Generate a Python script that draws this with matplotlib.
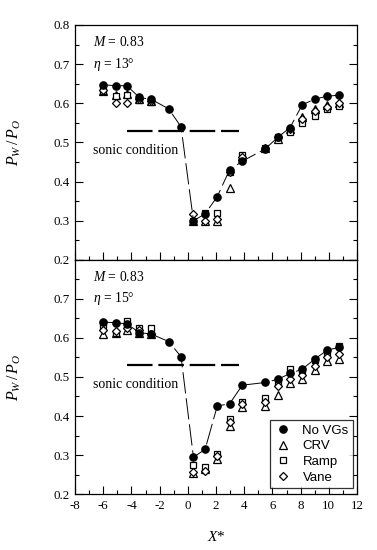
import matplotlib
matplotlib.use('Agg')
import matplotlib.pyplot as plt
from matplotlib.ticker import MultipleLocator

plt.rcParams['font.family'] = 'Liberation Serif'
plt.rcParams['mathtext.fontset'] = 'custom'
plt.rcParams['mathtext.rm'] = 'Liberation Serif'
plt.rcParams['mathtext.it'] = 'Liberation Serif:italic'

# pressure tap locations
x_all = [-6, -5.06, -4.32, -3.44, -2.59, -1.36, -0.48, 0.40, 1.23, 2.09,
         2.96, 3.86, 5.50, 6.38, 7.25, 8.11, 9.01, 9.89, 10.74]
# VG cases have no taps at -1.36 and -0.48
x_vg = [-6, -5.06, -4.32, -3.44, -2.59, 0.40, 1.23, 2.09,
        2.96, 3.86, 5.50, 6.38, 7.25, 8.11, 9.01, 9.89, 10.74]

# eta = 13 deg
novg_13 = [0.647, 0.645, 0.645, 0.615, 0.610, 0.586, 0.540, 0.300, 0.318, 0.362,
           0.430, 0.452, 0.484, 0.513, 0.538, 0.596, 0.611, 0.618, 0.621]
crv_13 = [0.632, 0.621, 0.625, 0.610, 0.605, 0.300, 0.300, 0.300,
          0.385, 0.465, 0.485, 0.510, 0.535, 0.565, 0.585, 0.595, 0.600]
ramp_13 = [0.632, 0.618, 0.620, 0.608, 0.603, 0.300, 0.320, 0.320,
           0.425, 0.468, 0.487, 0.515, 0.528, 0.550, 0.568, 0.585, 0.593]
vane_13 = [0.633, 0.602, 0.600, 0.610, 0.605, 0.318, 0.300, 0.305,
           0.425, 0.463, 0.487, 0.513, 0.535, 0.560, 0.580, 0.590, 0.600]

# eta = 15 deg
novg_15 = [0.641, 0.639, 0.636, 0.614, 0.610, 0.591, 0.552, 0.294, 0.315, 0.426,
           0.431, 0.479, 0.486, 0.494, 0.509, 0.520, 0.546, 0.569, 0.576]
crv_15 = [0.610, 0.614, 0.620, 0.612, 0.610, 0.253, 0.263, 0.290,
          0.375, 0.424, 0.426, 0.454, 0.484, 0.496, 0.518, 0.541, 0.546]
ramp_15 = [0.633, 0.614, 0.644, 0.626, 0.626, 0.275, 0.268, 0.302,
           0.393, 0.437, 0.445, 0.488, 0.520, 0.518, 0.543, 0.565, 0.580]
vane_15 = [0.620, 0.619, 0.625, 0.620, 0.610, 0.257, 0.260, 0.298,
           0.385, 0.430, 0.437, 0.477, 0.494, 0.505, 0.528, 0.550, 0.558]

sonic = 0.53
sonic_x = [-4.3, 3.62]

fig = plt.figure(figsize=(3.77, 5.5), dpi=100)
ax1 = fig.add_axes([0.199, 0.5273, 0.748, 0.4273])
ax2 = fig.add_axes([0.199, 0.1018, 0.748, 0.4255])

ms = 4.6
panels = [(ax1, novg_13, crv_13, ramp_13, vane_13, '13'),
          (ax2, novg_15, crv_15, ramp_15, vane_15, '15')]
for ax, nv, crv, ramp, vane, eta in panels:
    ax.plot(x_vg, crv, linestyle='none', marker='^', ms=ms + 0.6, mfc='white',
            mec='black', mew=0.9, label='CRV')
    ax.plot(x_vg, ramp, linestyle='none', marker='s', ms=ms, mfc='white',
            mec='black', mew=0.9, label='Ramp')
    ax.plot(x_vg, vane, linestyle='none', marker='D', ms=ms - 0.3, mfc='white',
            mec='black', mew=0.9, label='Vane')
    ax.plot(x_all, nv, color='black', lw=0.7, linestyle=(0, (22, 5)),
            marker='o', ms=ms + 0.6, mfc='black', mec='black', label='No VGs')
    ax.plot(sonic_x, [sonic, sonic], color='black', lw=1.6,
            linestyle=(0, (11.5, 2.6)))
    ax.text(-6.75, 0.48, 'sonic condition', fontsize=10, va='center')
    ax.text(-6.75, 0.757, '$M$ = 0.83', fontsize=9.8, va='center')
    ax.text(-6.75, 0.70, r'$\eta$ = ' + eta + '°', fontsize=9.8, va='center')

    ax.set_xlim(-8, 12)
    ax.set_ylim(0.2, 0.8)
    ax.xaxis.set_major_locator(MultipleLocator(2))
    ax.xaxis.set_minor_locator(MultipleLocator(1))
    ax.yaxis.set_major_locator(MultipleLocator(0.1))
    ax.yaxis.set_minor_locator(MultipleLocator(0.05))
    ax.tick_params(which='both', direction='in', left=True, right=True,
                   top=False, bottom=True, labelsize=9.3, pad=4, width=0.8)
    ax.tick_params(which='major', length=6)
    ax.tick_params(which='minor', length=3)
    ax.yaxis.set_major_formatter(plt.FuncFormatter(lambda v, p: '%.1f' % v))
    for sp in ax.spines.values():
        sp.set_linewidth(0.9)
    ax.set_ylabel('$P_W\\,/\\,P_O$', fontsize=11.5)
    ax.yaxis.set_label_coords(-0.185, 0.5)

ax1.tick_params(labelbottom=False)
ax2.yaxis.set_major_formatter(
    plt.FuncFormatter(lambda v, p: '' if v > 0.75 else '%.1f' % v))
ax2.set_xticklabels(['%d' % v for v in ax2.get_xticks()])
ax2.set_xlabel('$X$*', fontsize=11, labelpad=13)

handles, labels = ax2.get_legend_handles_labels()
order = [3, 0, 1, 2]
leg = ax2.legend([handles[i] for i in order], [labels[i] for i in order],
                 loc='lower right', bbox_to_anchor=(0.987, 0.025),
                 prop={'family': 'Liberation Sans', 'size': 9.5},
                 frameon=True, fancybox=False, edgecolor='black',
                 handlelength=1.2, handletextpad=0.9, borderpad=0.35,
                 labelspacing=0.25, borderaxespad=0)
leg.get_frame().set_linewidth(0.9)
for h in leg.legend_handles:
    h.set_linestyle('none')

fig.savefig('out.png', dpi=100)
